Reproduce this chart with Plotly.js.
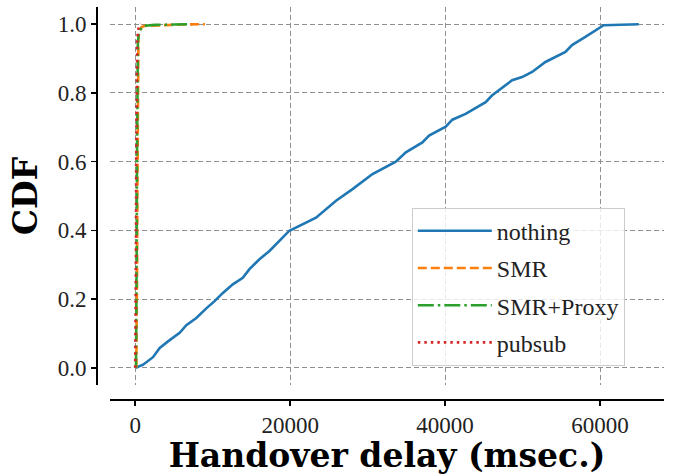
<!DOCTYPE html>
<html>
<head>
<meta charset="utf-8">
<script src="https://cdn.plot.ly/plotly-3.0.1.min.js"></script>
<style>html,body{margin:0;padding:0;background:#fff;}#chart{width:678px;height:475px;}</style>
</head>
<body>
<div id="chart"></div>
<script>
// ---- Data ----
const seriesNames = ["nothing", "SMR", "SMR+Proxy", "pubsub"];

const nothingX = [80, 1020, 2300, 3170, 4240, 5740, 6600, 7890, 9180, 10250, 11320, 12600, 13890, 14750, 16040, 17330,
  19900, 23340, 25920, 28050, 30630, 33640, 34930, 37070, 37930, 40080, 40930, 42650, 45230, 46080, 48650, 49940,
  51230, 52950, 55530, 56380, 58100, 59820, 60460, 65000];
const nothingY = [0, 0.009, 0.031, 0.058, 0.077, 0.102, 0.124, 0.145, 0.173, 0.194, 0.218, 0.243, 0.262, 0.287, 0.316, 0.340,
  0.399, 0.437, 0.486, 0.520, 0.564, 0.600, 0.627, 0.656, 0.676, 0.702, 0.722, 0.739, 0.773, 0.793, 0.837, 0.846,
  0.861, 0.890, 0.919, 0.939, 0.963, 0.987, 0.997, 1.0];

const smrX = [150, 200, 250, 280, 300, 330, 360, 420, 550, 750, 1200, 3000, 6000, 9000];
const smrY = [0, 0.1, 0.3, 0.5, 0.7, 0.85, 0.93, 0.96, 0.98, 0.99, 0.995, 0.997, 0.999, 1.0];

const proxyX = [100, 150, 200, 230, 260, 300, 350, 450, 700, 1100, 2500, 5000, 7000];
const proxyY = [0, 0.1, 0.35, 0.6, 0.8, 0.9, 0.95, 0.97, 0.985, 0.995, 0.998, 0.999, 1.0];

const pubsubX = [0, 50, 100, 130, 160, 200, 260, 350, 500, 800];
const pubsubY = [0, 0.1, 0.35, 0.6, 0.8, 0.9, 0.95, 0.98, 0.995, 1.0];

const xTickVals = [0, 20000, 40000, 60000];
const xTickText = ["0", "20000", "40000", "60000"];
const yTickVals = [0, 0.2, 0.4, 0.6, 0.8, 1.0];
const yTickText = ["0.0", "0.2", "0.4", "0.6", "0.8", "1.0"];

const xTitle = "Handover delay (msec.)";
const yTitle = "CDF";

// ---- Styling ----
const colors = ["#1f77b4", "#ff7f0e", "#2ca02c", "#d62728"];
const dashes = ["solid", "9px,4px", "16px,4px,2.5px,4px", "2.5px,4px"];
const xs = [nothingX, smrX, proxyX, pubsubX];
const ys = [nothingY, smrY, proxyY, pubsubY];

const traces = seriesNames.map((n, i) => ({
  x: xs[i], y: ys[i], name: n, type: "scatter", mode: "lines",
  legendgroup: "g" + i,
  line: {color: colors[i], width: 2.6, dash: dashes[i]}
}));

const tickFont = {family: "Liberation Serif", size: 23, color: "#222", weight: "normal"};
const legendFont = {family: "Liberation Serif", size: 24, color: "#222", weight: "normal"};
const titleFont = {family: "DejaVu Serif", size: 33, color: "#000", weight: "bold"};

const layout = {
  width: 678, height: 475,
  margin: {l: 96, r: 14, t: 7, b: 76},
  paper_bgcolor: "#fff", plot_bgcolor: "#fff",
  font: {family: "Liberation Serif"},
  showlegend: true,
  legend: {
    x: 0.556, y: 0.488, xanchor: "left", yanchor: "top",
    bgcolor: "rgba(255,255,255,0.8)", bordercolor: "#cccccc", borderwidth: 1,
    font: legendFont,
    traceorder: "grouped", tracegroupgap: 3,
    itemwidth: 74
  },
  xaxis: {
    domain: [14/568, 1], anchor: "free", position: 0,
    range: [-3250, 68250],
    tickvals: xTickVals, ticktext: xTickText, tickfont: tickFont,
    showline: true, linecolor: "#000", linewidth: 1.5,
    ticks: "outside", ticklen: 5, tickwidth: 1.5, tickcolor: "#000",
    showgrid: true, gridcolor: "#8f8f8f", gridwidth: 1, griddash: "5px,3px",
    zeroline: false,
    title: {text: xTitle, font: titleFont, standoff: 1}
  },
  yaxis: {
    domain: [14/392, 1], anchor: "free", position: 0,
    range: [-0.05, 1.05],
    tickvals: yTickVals, ticktext: yTickText, tickfont: tickFont,
    showline: true, linecolor: "#000", linewidth: 1.5,
    ticks: "outside", ticklen: 5, tickwidth: 1.5, tickcolor: "#000",
    showgrid: true, gridcolor: "#8f8f8f", gridwidth: 1, griddash: "5px,3px",
    zeroline: false,
    title: {text: yTitle, font: titleFont, standoff: 8}
  }
};

Plotly.newPlot("chart", traces, layout, {displayModeBar: false, staticPlot: true});
</script>
</body>
</html>
